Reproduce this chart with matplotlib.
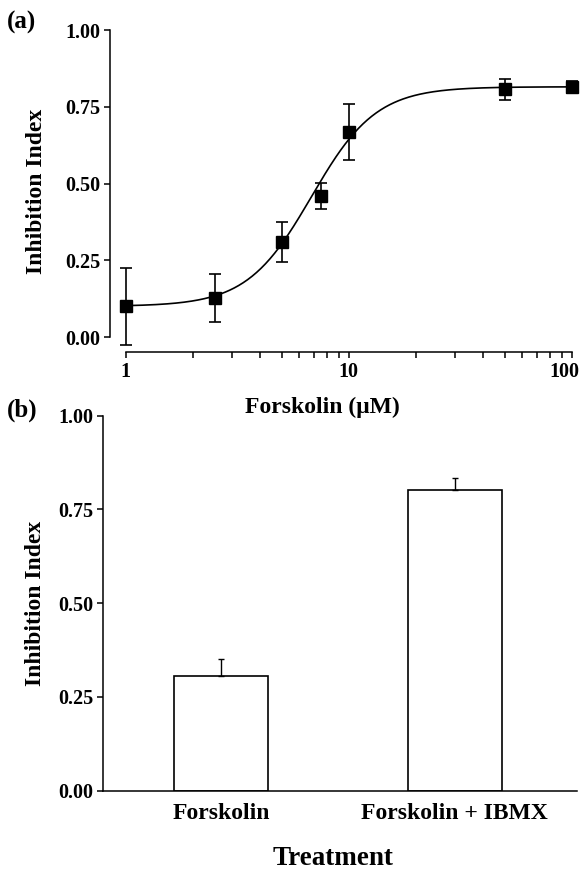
import numpy as np
import matplotlib
matplotlib.use("Agg")
import matplotlib.pyplot as plt
import matplotlib.transforms as mtransforms
from matplotlib.ticker import NullFormatter, FixedLocator, FixedFormatter

plt.rcParams['font.family'] = ['Liberation Serif', 'DejaVu Serif']
plt.rcParams['font.weight'] = 'bold'

# ---- Panel (a) data: dose-response ----
forskolin_uM = [1, 2.5, 5, 7.5, 10, 50, 100]
inhibition_a = [0.100, 0.128, 0.310, 0.460, 0.668, 0.807, 0.815]
sem_a = [0.125, 0.078, 0.065, 0.043, 0.090, 0.034, 0.020]

# fitted sigmoid (Hill) parameters
fit_bottom = 0.10
fit_top = 0.815
fit_ec50 = 6.8
fit_hill = 3.0

x_major = [1, 10, 100]
x_major_labels = ['1', '10', '100']
x_minor = [2, 3, 4, 5, 6, 7, 8, 9, 20, 30, 40, 50, 60, 70, 80, 90]

# ---- Panel (b) data: treatments ----
treatments = ['Forskolin', 'Forskolin + IBMX']
inhibition_b = [0.306, 0.801]
sem_b = [0.044, 0.033]

y_ticks = [0.0, 0.25, 0.50, 0.75, 1.00]
y_ticklabels = ['0.00', '0.25', '0.50', '0.75', '1.00']

W, H = 587, 872
fig = plt.figure(figsize=(W / 100, H / 100), dpi=100)

def frac(x0, y0, x1, y1):
    return [x0 / W, 1 - y1 / H, (x1 - x0) / W, (y1 - y0) / H]

LW = 1.1
TICK_FS = 14.5

# ----- Panel (a) -----
ax1 = fig.add_axes(frac(110, 30, 572, 352.4))
ax1.set_xscale('log')
ax1.set_xlim(0.85, 100)
ax1.set_ylim(-0.05, 1.0)

xs = np.logspace(0, 2, 400)
ys = fit_bottom + (fit_top - fit_bottom) / (1 + (fit_ec50 / xs) ** fit_hill)
ax1.plot(xs, ys, color='black', lw=1.2, clip_on=False)
ax1.errorbar(forskolin_uM, inhibition_a, yerr=sem_a, fmt='s', color='black',
             markersize=8, capsize=4.5, elinewidth=1.2, capthick=1.2, clip_on=False)

for s in ['top', 'right']:
    ax1.spines[s].set_visible(False)
for s in ['left', 'bottom']:
    ax1.spines[s].set_linewidth(LW)
ax1.spines['left'].set_bounds(0, 1)
ax1.spines['bottom'].set_bounds(1, 100)

ax1.yaxis.set_major_locator(FixedLocator(y_ticks))
ax1.yaxis.set_major_formatter(FixedFormatter(y_ticklabels))
ax1.xaxis.set_major_locator(FixedLocator(x_major))
ax1.xaxis.set_major_formatter(FixedFormatter(x_major_labels))
ax1.xaxis.set_minor_locator(FixedLocator(x_minor))
ax1.xaxis.set_minor_formatter(NullFormatter())
ax1.tick_params(axis='both', which='both', direction='out', length=4, width=LW,
                labelsize=TICK_FS, pad=3)
for lab in ax1.get_xticklabels() + ax1.get_yticklabels():
    lab.set_fontweight('bold')
ax1.set_ylabel('Inhibition Index', fontsize=17, fontweight='bold')

# shift the "100" label a little left, as in the reference
fig.canvas.draw()
xl = ax1.get_xticklabels()
xl[-1].set_transform(xl[-1].get_transform() +
                     mtransforms.ScaledTranslation(-8 / 100, 0, fig.dpi_scale_trans))

# ----- Panel (b) -----
ax2 = fig.add_axes(frac(103.3, 415.7, 577, 790.7))
pos = np.arange(len(treatments))
ax2.bar(pos, inhibition_b, width=0.403, color='white', edgecolor='black', linewidth=1.2)
ax2.errorbar(pos, inhibition_b, yerr=[np.zeros(len(sem_b)), sem_b], fmt='none',
             ecolor='black', capsize=2.5, elinewidth=1.0, capthick=1.0)
ax2.set_xlim(-0.506, 1.524)
ax2.set_ylim(0, 1.0)
for s in ['top', 'right']:
    ax2.spines[s].set_visible(False)
for s in ['left', 'bottom']:
    ax2.spines[s].set_linewidth(LW)
ax2.yaxis.set_major_locator(FixedLocator(y_ticks))
ax2.yaxis.set_major_formatter(FixedFormatter(y_ticklabels))
ax2.set_xticks(pos)
ax2.set_xticklabels(treatments, fontsize=17, fontweight='bold')
ax2.tick_params(axis='y', direction='out', length=4, width=LW, labelsize=TICK_FS, pad=3)
ax2.tick_params(axis='x', length=0, pad=9)
for lab in ax2.get_yticklabels():
    lab.set_fontweight('bold')
ax2.set_ylabel('Inhibition Index', fontsize=17, fontweight='bold')

def set_ylabel_px(ax, xpix):
    bb = ax.get_position()
    ax.yaxis.set_label_coords((xpix - bb.x0 * W) / (bb.width * W), 0.5)

set_ylabel_px(ax1, 37)
set_ylabel_px(ax2, 36)
ax1.yaxis.label.set_va('center')
ax2.yaxis.label.set_va('center')

# free-standing texts
fig.text(322 / W, 1 - 407 / H, 'Forskolin (\u03bcM)', fontsize=17, fontweight='bold',
         ha='center', va='center')
fig.text(333 / W, 1 - 858 / H, 'Treatment', fontsize=19.5, fontweight='bold',
         ha='center', va='center')
fig.text(22 / W, 1 - 22 / H, '(a)', fontsize=18, fontweight='bold', ha='center', va='center')
fig.text(22 / W, 1 - 410 / H, '(b)', fontsize=18, fontweight='bold', ha='center', va='center')

fig.savefig('out.png', dpi=100)
